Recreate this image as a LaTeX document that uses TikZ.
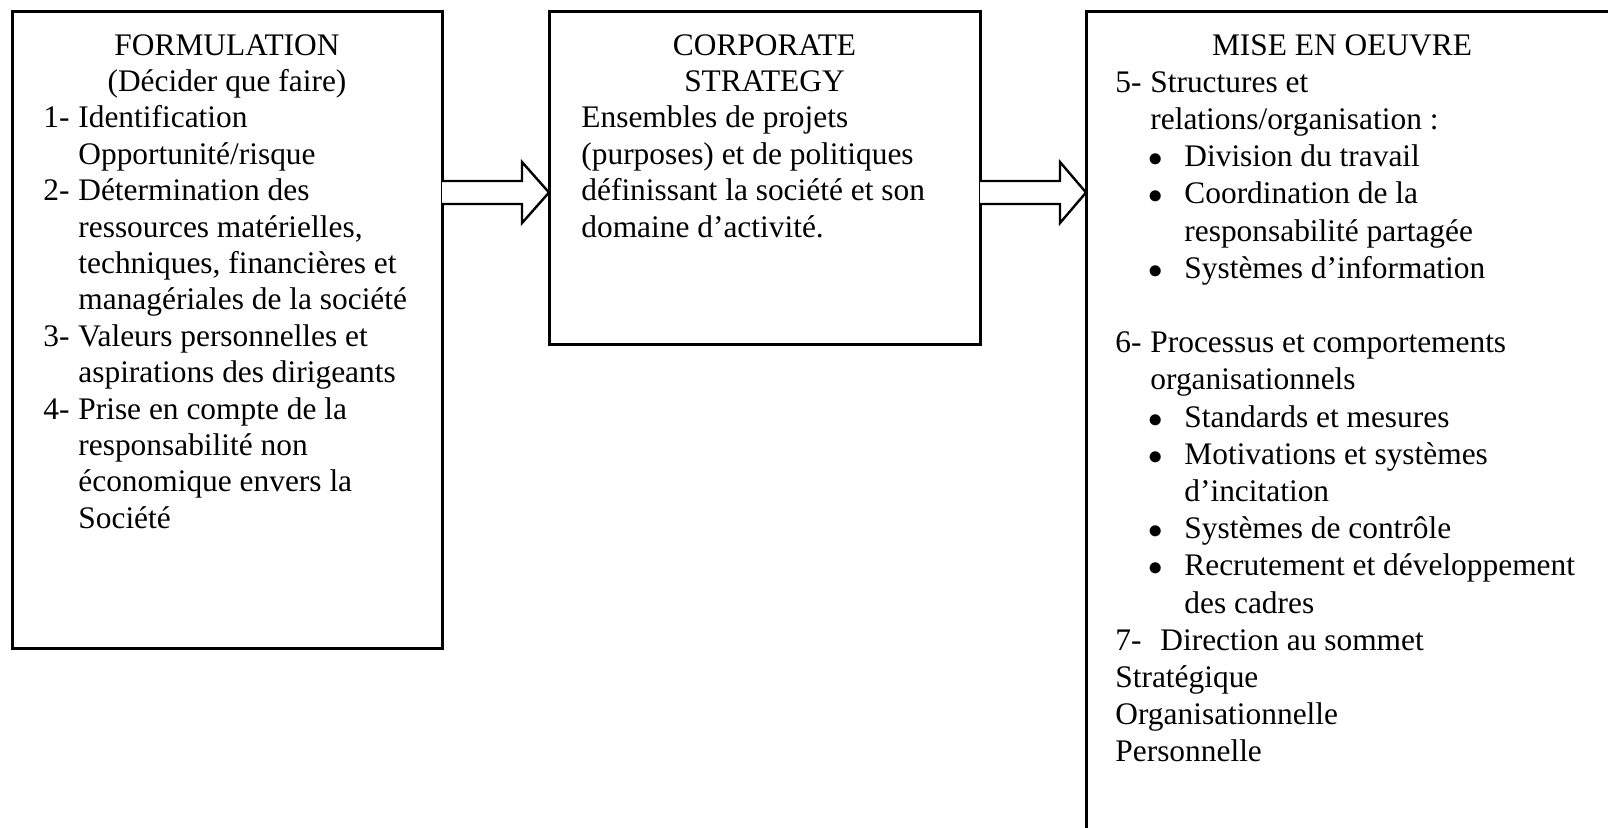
\documentclass[tikz,border=0pt]{standalone}
\usepackage{fontspec}
\setmainfont{Liberation Serif}
\usetikzlibrary{positioning,calc}

\tikzset{
  box/.style={draw, line width=1.5pt, rectangle, inner sep=0pt, outer sep=0pt, anchor=north west},
  blockarr/.style={draw, line width=1.2pt, fill=white, line join=miter},
  titletext/.style={anchor=base, inner sep=0pt},
  bodytext/.style={anchor=base west, inner sep=0pt, align=left}
}
\newcommand{\numlbl}[1]{\makebox[17.5pt][l]{#1}}
\newcommand{\bulitem}{\makebox[34.5pt][l]{\hspace*{16.5pt}$\bullet$}}
\newcommand{\contind}{\hspace*{34.5pt}}

\begin{document}
\begin{tikzpicture}[x=0.5pt, y=-0.5pt, font=\fontsize{15.7}{18.2}\selectfont]

    \useasboundingbox (0,0) rectangle (1608,827);
    \clip (0,0) rectangle (1608,827);

    % =========================================================================
    % CADRES
    % =========================================================================
    \node[box, minimum width=215pt, minimum height=318.5pt] (formulation) at (12,11) {};
    \node[box, minimum width=215.5pt, minimum height=166.5pt] (strategy) at (549,11) {};
    % le dernier cadre sort de la page
    \node[box, minimum width=270pt, minimum height=420pt] (miseoeuvre) at (1086,11) {};

    % =========================================================================
    % FLECHES
    % =========================================================================
    \draw[blockarr] (formulation.east |- 0,181) -- ++(80,0) -- ++(0,-19)
        -- (strategy.west |- 0,192.5) -- ++(-27,30.5) -- ++(0,-19)
        -- (formulation.east |- 0,204);
    \draw[blockarr] (strategy.east |- 0,181) -- ++(80,0) -- ++(0,-19)
        -- (miseoeuvre.west |- 0,192.5) -- ++(-26,30.5) -- ++(0,-19)
        -- (strategy.east |- 0,204);

    % =========================================================================
    % FORMULATION
    % =========================================================================
    \node[titletext] (formtitle) at (formulation.north |- 0,55)
        {\begin{tabular}[t]{@{}c@{}}FORMULATION\\(Décider que faire)\end{tabular}};
    \node[bodytext] (formbody) at (43,127.8) {\begin{tabular}[t]{@{}l@{}}
        \numlbl{1-}Identification\\
        \numlbl{}Opportunité/risque\\
        \numlbl{2-}Détermination des\\
        \numlbl{}ressources matérielles,\\
        \numlbl{}techniques, financières et\\
        \numlbl{}managériales de la société\\
        \numlbl{3-}Valeurs personnelles et\\
        \numlbl{}aspirations des dirigeants\\
        \numlbl{4-}Prise en compte de la\\
        \numlbl{}responsabilité non\\
        \numlbl{}économique envers la\\
        \numlbl{}Société
    \end{tabular}};

    % =========================================================================
    % CORPORATE STRATEGY
    % =========================================================================
    \node[titletext] (strattitle) at (strategy.north |- 0,55)
        {\begin{tabular}[t]{@{}c@{}}CORPORATE\\STRATEGY\end{tabular}};
    \node[bodytext] (stratbody) at (581,127.8) {\begin{tabular}[t]{@{}l@{}}
        Ensembles de projets\\
        (purposes) et de politiques\\
        définissant la société et son\\
        domaine d’activité.
    \end{tabular}};

    % =========================================================================
    % MISE EN OEUVRE
    % =========================================================================
    \node[titletext] (misetitle) at (1342,55) {MISE EN OEUVRE};
    \node[bodytext, font=\fontsize{15.7}{18.6}\selectfont] (misebody) at (1115,92.2)
        {\begin{tabular}[t]{@{}l@{}}
        \numlbl{5-}Structures et\\
        \numlbl{}relations/organisation :\\
        \bulitem Division du travail\\
        \bulitem Coordination de la\\
        \contind responsabilité partagée\\
        \bulitem Systèmes d’information\\
        \mbox{}\\
        \numlbl{6-}Processus et comportements\\
        \numlbl{}organisationnels\\
        \bulitem Standards et mesures\\
        \bulitem Motivations et systèmes\\
        \contind d’incitation\\
        \bulitem Systèmes de contrôle\\
        \bulitem Recrutement et développement\\
        \contind des cadres\\
        \makebox[22.5pt][l]{7-}Direction au sommet\\
        Stratégique\\
        Organisationnelle\\
        Personnelle
    \end{tabular}};
\end{tikzpicture}
\end{document}
